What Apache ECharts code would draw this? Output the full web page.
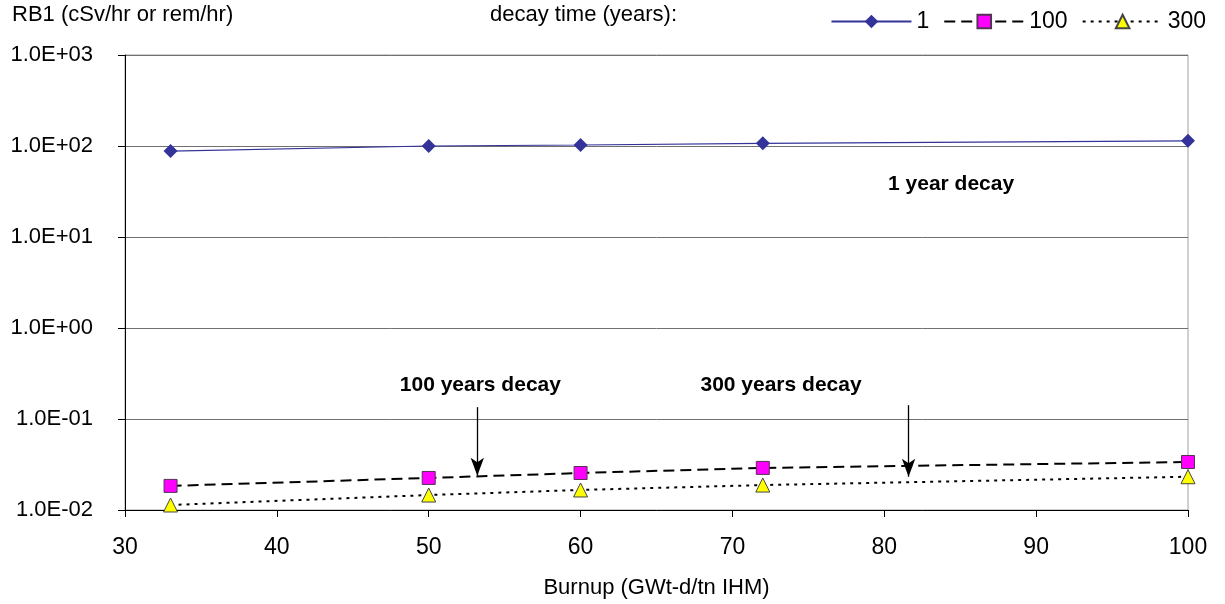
<!DOCTYPE html>
<html>
<head>
<meta charset="utf-8">
<script src="https://cdn.jsdelivr.net/npm/echarts@6/dist/echarts.min.js"></script>
<style>
  html, body { margin: 0; padding: 0; background: #fff; }
  #chart { width: 1225px; height: 604px; }
</style>
</head>
<body>
<div id="chart"></div>
<script>
  // burnup points (GWt-d/tn IHM)
  const burnup = [33, 50, 60, 72, 100];
  // dose rate for each decay time
  const decay1 = [88, 100, 102.5, 107, 114];
  const decay100 = [0.0184, 0.0225, 0.0255, 0.029, 0.0337];
  const decay300 = [0.01135, 0.0146, 0.0166, 0.0188, 0.0232];
  const seriesNames = ['1', '100', '300'];

  // annotation text + arrows (in data coords)
  const notes = [
    { text: '1 year decay', x: 84.4, y: 38 },
    { text: '100 years decay', x: 53.4, y: 0.235 },
    { text: '300 years decay', x: 73.2, y: 0.235 }
  ];
  const arrows = [
    { x: 53.2, from: 0.135, to: 0.0238 },
    { x: 81.6, from: 0.142, to: 0.0232 }
  ];

  const font = '"Liberation Sans", Arial, sans-serif';

  function sciLabel(v) {
    const e = Math.round(Math.log10(v));
    const m = v / Math.pow(10, e);
    const sign = e < 0 ? '-' : '+';
    const ee = Math.abs(e) < 10 ? '0' + Math.abs(e) : '' + Math.abs(e);
    return m.toFixed(1) + 'E' + sign + ee;
  }

  function pairs(ys) {
    return burnup.map((x, i) => [x, ys[i]]);
  }

  let myChart = echarts.init(document.getElementById('chart'));
  myChart.setOption({
    animation: false,
    textStyle: { fontFamily: font },
    grid: { left: 125, right: 37, top: 55, bottom: 94, show: true, borderColor: '#a0a0a0', borderWidth: 1 },
    graphic: [
      { type: 'text', left: 12, top: 4, style: { text: 'RB1 (cSv/hr or rem/hr)', font: '22px ' + font, fill: '#000' } },
      { type: 'text', left: 490, top: 4, style: { text: 'decay time (years):', font: '22px ' + font, fill: '#000' } }
    ],
    legend: {
      data: seriesNames,
      right: 14,
      top: 5,
      itemWidth: 80,
      itemHeight: 17,
      itemGap: 14,
      textStyle: { fontSize: 23, color: '#000', fontFamily: font }
    },
    xAxis: {
      type: 'value',
      min: 30,
      max: 100,
      interval: 10,
      name: 'Burnup (GWt-d/tn IHM)',
      nameLocation: 'middle',
      nameGap: 67,
      nameTextStyle: { fontSize: 22, color: '#000' },
      axisLine: { lineStyle: { color: '#000', width: 1 } },
      axisTick: { show: true, length: 7, lineStyle: { color: '#000' } },
      axisLabel: { fontSize: 23, color: '#000', margin: 26 },
      splitLine: { show: false }
    },
    yAxis: {
      type: 'log',
      logBase: 10,
      min: 0.01,
      max: 1000,
      axisLine: { show: true, lineStyle: { color: '#000', width: 1 } },
      axisTick: { show: true, length: 7, lineStyle: { color: '#000' } },
      axisLabel: { fontSize: 22, color: '#000', margin: 32, formatter: sciLabel },
      splitLine: { show: true, lineStyle: { color: '#707070', width: 1 } },
      minorTick: { show: false }
    },
    series: [
      {
        name: '1',
        type: 'line',
        data: pairs(decay1),
        symbol: 'diamond',
        symbolSize: 14,
        color: '#333399',
        lineStyle: { color: '#333399', width: 1.2 },
        itemStyle: { color: '#333399' },
        markPoint: {
          symbol: 'rect',
          symbolSize: 1,
          itemStyle: { color: 'rgba(0,0,0,0)' },
          label: { show: true, position: 'inside', color: '#000', fontWeight: 'bold', fontSize: 21, fontFamily: font, formatter: p => p.name },
          data: notes.map(n => ({ name: n.text, coord: [n.x, n.y] }))
        }
      },
      {
        name: '100',
        type: 'line',
        data: pairs(decay100),
        symbol: 'rect',
        symbolSize: 13,
        color: '#ff00ff',
        lineStyle: { color: '#000', width: 2, type: [11, 6] },
        itemStyle: { color: '#ff00ff', borderColor: '#553355', borderWidth: 1 },
        markLine: {
          silent: true,
          symbol: ['none', 'arrow'],
          symbolSize: [10, 18],
          label: { show: false },
          lineStyle: { color: '#000', width: 1.3, type: 'solid' },
          data: arrows.map(a => [{ coord: [a.x, a.from] }, { coord: [a.x, a.to] }])
        }
      },
      {
        name: '300',
        type: 'line',
        data: pairs(decay300),
        symbol: 'triangle',
        symbolSize: 14,
        color: '#ffff00',
        lineStyle: { color: '#000', width: 2, type: [3, 5] },
        itemStyle: { color: '#ffff00', borderColor: '#444', borderWidth: 1 }
      }
    ]
  });
</script>
</body>
</html>
